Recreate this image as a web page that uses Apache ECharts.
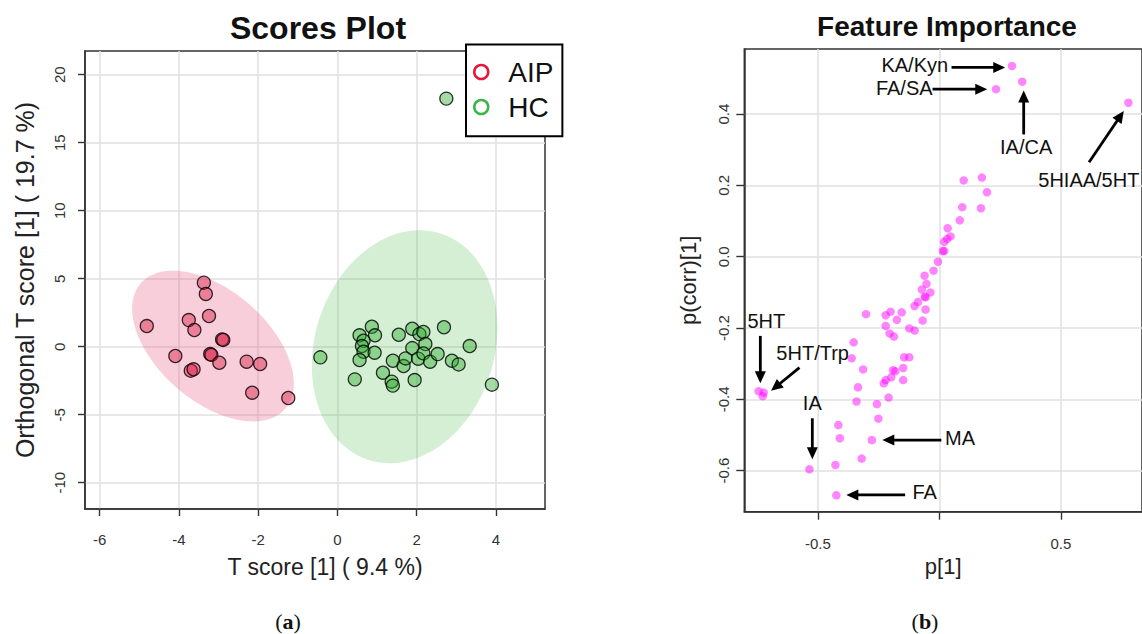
<!DOCTYPE html>
<html><head><meta charset="utf-8">
<script src="https://cdn.jsdelivr.net/npm/echarts@6/dist/echarts.min.js"></script>
<style>html,body{margin:0;padding:0;background:#fff}#c{width:1142px;height:634px}</style>
</head><body><div id="c"></div>
<script>
// ---------- Data: Scores Plot ----------
const aipX = [-3.37,-3.32,-3.24,-4.81,-3.75,-3.61,-2.91,-2.88,-4.09,-3.21,-3.18,-2.98,-2.29,-1.95,-3.70,-3.63,-2.15,-1.24];
const aipY = [4.71,3.88,2.26,1.52,1.96,1.23,0.54,0.50,-0.68,-0.54,-0.60,-1.18,-1.10,-1.27,-1.76,-1.66,-3.38,-3.77];
const hcX = [2.75,-0.43,0.56,0.87,0.95,0.66,0.62,0.66,0.56,0.94,0.44,1.15,1.37,1.40,1.40,1.67,1.72,1.55,1.89,2.07,2.17,1.89,2.22,2.04,2.17,2.34,2.53,1.95,2.69,2.89,3.06,3.34,3.90];
const hcY = [18.24,-0.78,0.84,1.47,0.84,0.44,0.05,-0.37,-0.98,-0.44,-2.40,-1.91,-2.57,-2.86,-1.03,-1.42,-0.86,0.88,1.32,0.93,1.08,-0.10,0.20,-0.88,-0.49,-1.10,-0.54,-2.45,1.43,-1.03,-1.30,0.05,-2.79];
// confidence ellipses: [centerX, centerY, axis1X, axis1Y, axis2X, axis2Y] in data units
const aipEllipse = [-3.14, 0.05, 1.823, -4.611, -0.916, -3.070];
const hcEllipse = [1.697, 0.0, 0.907, 8.327, 2.159, -1.994];
const scoreXTicks = [-6,-4,-2,0,2,4];
const scoreYTicks = [-10,-5,0,5,10,15,20];

// ---------- Data: Feature Importance ----------
const featP = [0.299,0.341,0.233,0.778,0.100,0.175,0.196,0.094,0.171,0.084,0.034,0.046,0.032,0.020,0.014,0.020,-0.006,-0.024,-0.061,-0.053,-0.072,-0.037,-0.057,-0.060,-0.088,-0.102,-0.057,-0.069,-0.155,-0.201,-0.221,-0.302,-0.175,-0.221,-0.124,-0.102,-0.205,-0.187,-0.353,-0.361,-0.145,-0.124,-0.314,-0.191,-0.181,-0.149,-0.198,-0.221,-0.229,-0.149,-0.335,-0.209,-0.341,-0.257,-0.251,-0.416,-0.410,-0.278,-0.320,-0.428,-0.535,-0.424,-0.744,-0.727,-0.723];
const featCorr = [0.535,0.491,0.470,0.432,0.214,0.222,0.181,0.139,0.136,0.102,0.080,0.057,0.050,0.042,0.016,0.016,-0.014,-0.039,-0.053,-0.076,-0.092,-0.100,-0.114,-0.112,-0.127,-0.138,-0.148,-0.179,-0.156,-0.154,-0.164,-0.161,-0.177,-0.194,-0.201,-0.207,-0.215,-0.224,-0.240,-0.285,-0.282,-0.282,-0.316,-0.318,-0.321,-0.312,-0.338,-0.346,-0.355,-0.346,-0.366,-0.395,-0.406,-0.413,-0.454,-0.472,-0.509,-0.514,-0.566,-0.584,-0.596,-0.669,-0.377,-0.391,-0.381];
const annotNames = ['KA/Kyn','FA/SA','IA/CA','5HIAA/5HT','5HT','5HT/Trp','IA','MA','FA'];
const annotX = [0.036,-0.028,0.357,0.407,-0.790,-0.671,-0.523,0.023,-0.111];
const annotY = [0.538,0.472,0.307,0.215,-0.180,-0.271,-0.411,-0.509,-0.661];
const arrowFrom = [[0.050,0.531],[-0.028,0.470],[0.347,0.343],[0.616,0.265],[-0.737,-0.222],[-0.576,-0.311],[-0.523,-0.453],[0.008,-0.514],[-0.141,-0.668]];
const arrowTo = [[0.271,0.531],[0.197,0.470],[0.347,0.466],[0.759,0.409],[-0.737,-0.355],[-0.693,-0.376],[-0.523,-0.568],[-0.235,-0.514],[-0.383,-0.668]];
const featXTicks = [-0.5,0,0.5];
const featXLabels = [-0.5,0.5];
const featYTicks = [-0.6,-0.4,-0.2,0,0.2,0.4];

// ---------- styles ----------
const FONT = '"Liberation Sans", Arial, Helvetica, sans-serif';
const SERIF = '"Liberation Serif", "Times New Roman", serif';
const annotAlign = {'KA/Kyn':'right','FA/SA':'right','IA/CA':'center','5HIAA/5HT':'left','5HT':'left','5HT/Trp':'left','IA':'center','MA':'left','FA':'left'};

const chart = echarts.init(document.getElementById('c'), null, {renderer:'svg'});

function ellipseItem(color){
  return function(params, api){
    const cx=api.value(0), cy=api.value(1), ux=api.value(2), uy=api.value(3), vx=api.value(4), vy=api.value(5);
    const pts=[];
    for(let i=0;i<144;i++){
      const t=i/144*2*Math.PI, c=Math.cos(t), s=Math.sin(t);
      pts.push(api.coord([cx+ux*c+vx*s, cy+uy*c+vy*s]));
    }
    return {type:'polygon', shape:{points:pts}, style:{fill:color}};
  };
}
function arrowItem(params, api){
  const a=api.coord([api.value(0),api.value(1)]), b=api.coord([api.value(2),api.value(3)]);
  const dx=b[0]-a[0], dy=b[1]-a[1], L=Math.hypot(dx,dy), ux=dx/L, uy=dy/L;
  const hl=12, hw=5.5;
  const bx=b[0]-ux*hl, by=b[1]-uy*hl;
  return {type:'group', children:[
    {type:'line', shape:{x1:a[0],y1:a[1],x2:bx+ux*2,y2:by+uy*2}, style:{stroke:'#000', lineWidth:2.8}},
    {type:'polygon', shape:{points:[[b[0],b[1]],[bx-uy*hw,by+ux*hw],[bx+uy*hw,by-ux*hw]]}, style:{fill:'#000'}}
  ]};
}
function labelItem(params, api){
  const p=api.coord([api.value(0),api.value(1)]);
  const name=annotNames[params.dataIndex];
  return {type:'text', x:p[0], y:p[1], style:{text:name, align:annotAlign[name], verticalAlign:'middle', fontSize:20, fontFamily:FONT, fill:'#111'}};
}

const tickStyle = {show:true, inside:false, length:7, lineStyle:{color:'#333', width:1.4}};
const splitStyle = {show:true, lineStyle:{color:'#e0e0e0', width:1.5}};
const axisLineStyle = {show:true, onZero:false, lineStyle:{color:'#333', width:1.5}};

const option = {
  animation:false,
  backgroundColor:'#fff',
  grid:[
    {left:85, top:51, width:460, height:458, show:true, borderColor:'#333', borderWidth:1.5, containLabel:false},
    {left:744.3, top:49, width:407.7, height:462.7, show:true, borderColor:'#333', borderWidth:1.5, containLabel:false}
  ],
  xAxis:[
    {gridIndex:0, type:'value', min:-6.37, max:5.24,
     axisLine:axisLineStyle, axisTick:Object.assign({customValues:scoreXTicks}, tickStyle), splitLine:splitStyle,
     axisLabel:{customValues:scoreXTicks, fontSize:15, color:'#333', fontFamily:FONT, margin:23},
     name:'T score [1] ( 9.4 %)', nameLocation:'middle', nameGap:46,
     nameTextStyle:{fontSize:23, color:'#222', fontFamily:FONT, padding:[0,0,0,20]}},
    {gridIndex:1, type:'value', min:-0.803, max:0.834,
     axisLine:axisLineStyle, axisTick:Object.assign({customValues:featXTicks}, tickStyle, {length:8}), splitLine:splitStyle,
     axisLabel:{customValues:featXLabels, fontSize:15, color:'#333', fontFamily:FONT, margin:24, formatter:v=>v.toFixed(1)},
     name:'p[1]', nameLocation:'middle', nameGap:44,
     nameTextStyle:{fontSize:22, color:'#222', fontFamily:FONT}}
  ],
  yAxis:[
    {gridIndex:0, type:'value', min:-11.93, max:21.74,
     axisLine:axisLineStyle, axisTick:Object.assign({customValues:scoreYTicks}, tickStyle), splitLine:splitStyle,
     axisLabel:{customValues:scoreYTicks, fontSize:15, color:'#333', fontFamily:FONT, rotate:90, margin:18},
     name:'Orthogonal T score [1] ( 19.7 %)', nameLocation:'middle', nameGap:48,
     nameTextStyle:{fontSize:25, color:'#222', fontFamily:FONT}},
    {gridIndex:1, type:'value', min:-0.715, max:0.5826,
     axisLine:axisLineStyle, axisTick:Object.assign({customValues:featYTicks}, tickStyle, {length:8}), splitLine:splitStyle,
     axisLabel:{customValues:featYTicks, fontSize:15, color:'#333', fontFamily:FONT, rotate:90, margin:13, formatter:v=>v.toFixed(1)},
     name:'p(corr)[1]', nameLocation:'middle', nameGap:45,
     nameTextStyle:{fontSize:22, color:'#222', fontFamily:FONT}}
  ],
  legend:{show:true, orient:'vertical', left:466, top:44.5, padding:[12.5,9,14.3,7],
    itemWidth:32, itemHeight:14, itemGap:5, borderColor:'#000', borderWidth:2, backgroundColor:'#fff', z:10,
    textStyle:{fontSize:28, lineHeight:30, color:'#111', fontFamily:FONT, padding:[0,0,0,6]},
    data:[
      {name:'AIP', icon:'circle', itemStyle:{color:'rgba(0,0,0,0)', borderColor:'#E3173F', borderWidth:2.5}},
      {name:'HC', icon:'circle', itemStyle:{color:'rgba(0,0,0,0)', borderColor:'#3DB34A', borderWidth:2.5}}
    ]},
  graphic:[
    {type:'text', x:318, y:28, style:{text:'Scores Plot', align:'center', verticalAlign:'middle', font:'bold 32px '+FONT, fill:'#111'}},
    {type:'text', x:947, y:26, style:{text:'Feature Importance', align:'center', verticalAlign:'middle', font:'bold 28px '+FONT, fill:'#111'}},
    {type:'text', x:288, y:621, style:{text:'{r|(}{b|a}{r|)}', align:'center', verticalAlign:'middle',
      rich:{r:{fontSize:22, fontFamily:SERIF, fill:'#111'}, b:{fontSize:22, fontFamily:SERIF, fontWeight:'bold', fill:'#111'}}}},
    {type:'text', x:925, y:621, style:{text:'{r|(}{b|b}{r|)}', align:'center', verticalAlign:'middle',
      rich:{r:{fontSize:22, fontFamily:SERIF, fill:'#111'}, b:{fontSize:22, fontFamily:SERIF, fontWeight:'bold', fill:'#111'}}}}
  ],
  series:[
    {name:'AIP ellipse', type:'custom', xAxisIndex:0, yAxisIndex:0, silent:true, z:1,
     renderItem:ellipseItem('rgba(230,60,110,0.25)'), data:[aipEllipse]},
    {name:'HC ellipse', type:'custom', xAxisIndex:0, yAxisIndex:0, silent:true, z:1,
     renderItem:ellipseItem('rgba(60,180,60,0.22)'), data:[hcEllipse]},
    {name:'AIP', type:'scatter', xAxisIndex:0, yAxisIndex:0, z:3, symbolSize:13,
     itemStyle:{color:'rgba(220,20,60,0.42)', borderColor:'rgba(0,0,0,0.8)', borderWidth:1.3, opacity:1},
     data:aipX.map((x,i)=>[x,aipY[i]])},
    {name:'HC', type:'scatter', xAxisIndex:0, yAxisIndex:0, z:3, symbolSize:13,
     itemStyle:{color:'rgba(40,170,40,0.42)', borderColor:'rgba(0,0,0,0.8)', borderWidth:1.3, opacity:1},
     data:hcX.map((x,i)=>[x,hcY[i]])},
    {name:'features', type:'scatter', xAxisIndex:1, yAxisIndex:1, z:3, symbolSize:8.5,
     itemStyle:{color:'rgba(255,0,255,0.48)', opacity:1},
     data:featP.map((x,i)=>[x,featCorr[i]])},
    {name:'arrows', type:'custom', xAxisIndex:1, yAxisIndex:1, silent:true, z:4, clip:false,
     encode:{x:[0,2], y:[1,3]}, renderItem:arrowItem,
     data:arrowFrom.map((f,i)=>[f[0],f[1],arrowTo[i][0],arrowTo[i][1]])},
    {name:'labels', type:'custom', xAxisIndex:1, yAxisIndex:1, silent:true, z:4, clip:false,
     renderItem:labelItem, data:annotX.map((x,i)=>[x,annotY[i]])}
  ]
};
chart.setOption(option);
</script>
</body></html>
